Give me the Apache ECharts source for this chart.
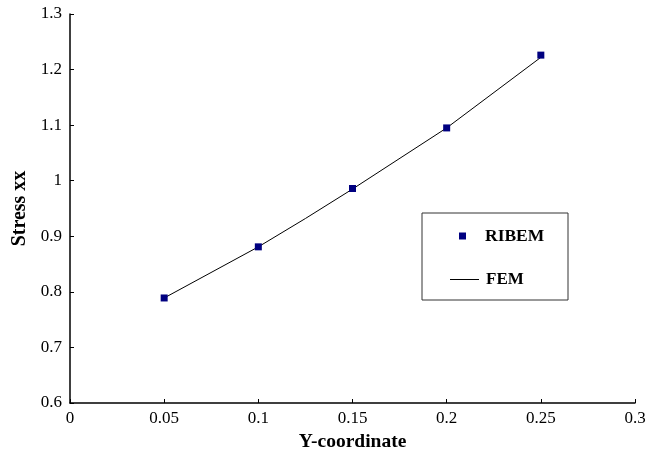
<!DOCTYPE html>
<html>
<head>
<meta charset="utf-8">
<script src="https://cdn.jsdelivr.net/npm/echarts@6/dist/echarts.min.js"></script>
<style>
  html, body { margin: 0; padding: 0; background: #fff; }
  #chart { width: 650px; height: 457px; }
</style>
</head>
<body>
<div id="chart"></div>
<script>
// RIBEM points
const ribemX = [0.05, 0.1, 0.15, 0.2, 0.25]
const ribemY = [0.789, 0.881, 0.986, 1.095, 1.226]
// FEM curve
const femX = [0.05, 0.1, 0.125, 0.15, 0.2, 0.25]
const femY = [0.789, 0.881, 0.932, 0.985, 1.095, 1.222]

const serif = "'Liberation Serif', 'Times New Roman', serif"

const chart = echarts.init(document.getElementById('chart'))

chart.setOption({
  animation: false,
  backgroundColor: '#fff',
  textStyle: { fontFamily: serif },
  grid: { left: 70, right: 15, top: 14, bottom: 54 },
  xAxis: {
    type: 'value',
    min: 0,
    max: 0.3,
    interval: 0.05,
    name: 'Y-coordinate',
    nameLocation: 'middle',
    nameGap: 28,
    nameTextStyle: { fontFamily: serif, fontSize: 19.5, fontWeight: 'bold', color: '#000' },
    axisLine: { lineStyle: { color: '#000', width: 1.5 } },
    axisTick: { inside: true, length: 4, lineStyle: { color: '#000' } },
    axisLabel: { fontFamily: serif, fontSize: 17, color: '#000', margin: 7 },
    splitLine: { show: false }
  },
  yAxis: {
    type: 'value',
    min: 0.6,
    max: 1.3,
    interval: 0.1,
    name: 'Stress xx',
    nameLocation: 'middle',
    nameGap: 40,
    nameTextStyle: { fontFamily: serif, fontSize: 20, fontWeight: 'bold', color: '#000' },
    axisLine: { show: true, lineStyle: { color: '#000', width: 1.5 } },
    axisTick: { show: true, inside: true, length: 4, lineStyle: { color: '#000' } },
    axisLabel: { fontFamily: serif, fontSize: 17, color: '#000', margin: 8 },
    splitLine: { show: false }
  },
  legend: [
    {
      data: [{ name: 'RIBEM', icon: 'rect' }],
      left: 459,
      top: 227,
      padding: 0,
      itemWidth: 7,
      itemHeight: 7,
      textStyle: { fontFamily: serif, fontSize: 17.5, fontWeight: 'bold', color: '#000', padding: [0, 0, 0, 14] }
    },
    {
      data: [{ name: 'FEM', icon: 'rect' }],
      left: 450,
      top: 271,
      padding: 0,
      itemWidth: 29,
      itemHeight: 1,
      textStyle: { fontFamily: serif, fontSize: 17, fontWeight: 'bold', color: '#000', padding: [0, 0, 0, 2] }
    }
  ],
  graphic: [
    {
      type: 'rect',
      shape: { x: 422, y: 213, width: 146, height: 87 },
      style: { fill: 'none', stroke: '#333', lineWidth: 1 },
      z: 10
    }
  ],
  series: [
    {
      name: 'FEM',
      type: 'line',
      data: femX.map((x, i) => [x, femY[i]]),
      showSymbol: false,
      symbol: 'none',
      lineStyle: { color: '#000', width: 1 },
      itemStyle: { color: '#000' },
      z: 2
    },
    {
      name: 'RIBEM',
      type: 'scatter',
      data: ribemX.map((x, i) => [x, ribemY[i]]),
      symbol: 'rect',
      symbolSize: 7,
      itemStyle: { color: '#000080', opacity: 1 },
      z: 3
    }
  ]
})
</script>
</body>
</html>
